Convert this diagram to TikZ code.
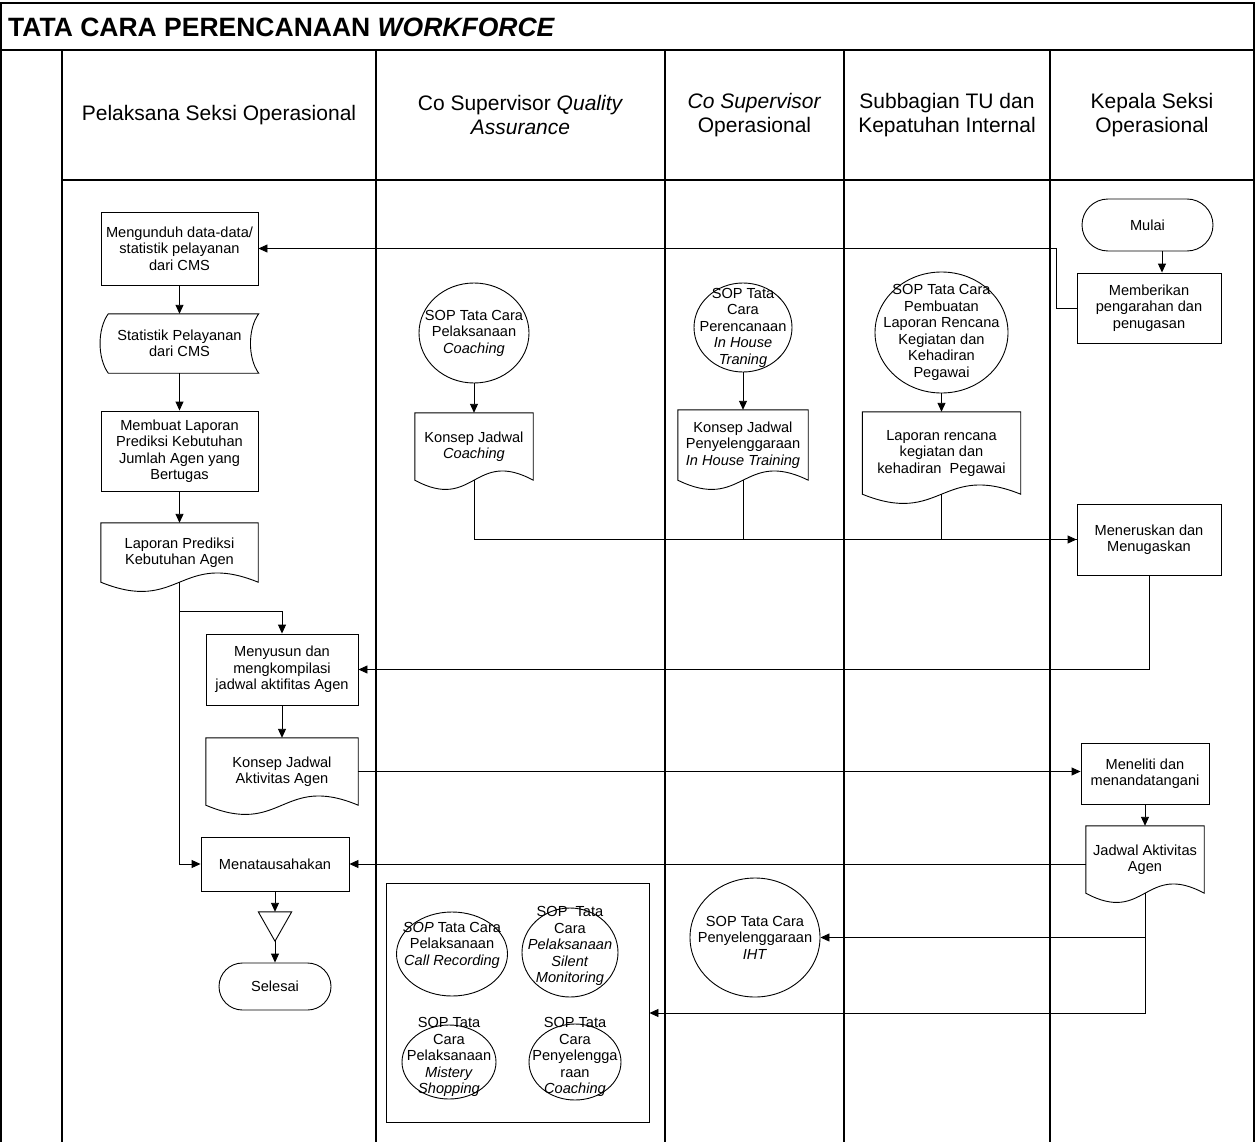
\documentclass[tikz,border=0pt]{standalone}
\usepackage{fontspec}
\setmainfont{Liberation Sans}
\usetikzlibrary{calc,arrows.meta,shapes.geometric}
\tikzset{
  lbl/.style={font=\fontsize{14.6}{16.5}\selectfont, align=center, inner sep=0pt, text=black},
  procbox/.style={lbl, draw, line width=0.9pt},
  docbox/.style={lbl, draw=none},
  termbox/.style={lbl, draw, line width=0.9pt, rounded corners=#1},
  sopcirc/.style={draw, ellipse, line width=0.9pt, inner sep=0pt},
  outline/.style={draw, line width=0.9pt},
  conn/.style={line width=0.9pt},
  arr/.style={conn, -{Triangle[length=9pt,width=8pt]}},
  lane/.style={line width=1.2pt},
  hdr/.style={font=\fontsize{21}{24}\selectfont, align=center, inner sep=0pt},
}
\newcommand\docpath[1]{\path[outline] (#1.south west) -- (#1.north west) -- (#1.north east) -- (#1.south east)
  .. controls ($(#1.south)+(0,-32)$) and ($(#1.south)+(0,32)$) .. (#1.south west) -- cycle;}
\begin{document}
\begin{tikzpicture}[x=1pt,y=-1pt]
\useasboundingbox (0,0) rectangle (1255,1142);
\fill[white] (0,0) rectangle (1255,1142);
% frame and lanes
\draw[lane] (1,1142) -- (1,3) -- (1254,3) -- (1254,1142);
\draw[lane] (1,50) -- (1254,50);
\draw[lane] (62,180) -- (1254,180);
\foreach \x in {62,376,665,844,1050} \draw[lane] (\x,50) -- (\x,1142);
% title and headers
\node[anchor=west, inner sep=0pt, font=\fontsize{26.5}{30}\selectfont\bfseries] (title) at (8,27) {TATA CARA PERENCANAAN \textit{WORKFORCE}};
\node[hdr] (h1) at (219,115) {Pelaksana Seksi Operasional};
\node[hdr] (h2) at (520.5,115) {Co Supervisor \textit{Quality}\\\textit{Assurance}};
\node[hdr] (h3) at (754.5,115) {\textit{Co Supervisor}\\Operasional};
\node[hdr] (h4) at (947,115) {Subbagian TU dan\\Kepatuhan Internal};
\node[hdr] (h5) at (1152,115) {Kepala Seksi\\Operasional};
% lane 1
\node[procbox, minimum width=157pt, minimum height=73pt] (unduh) at (179.5,248.5) {Mengunduh data-data/\\statistik pelayanan\\dari CMS};
\node[docbox, minimum width=158pt, minimum height=59pt] (stat) at (179.5,343.5) {Statistik Pelayanan\\dari CMS};
\path[outline] ([xshift=8pt]stat.north west) -- (stat.north east) .. controls +(-11,15) and +(-11,-15) .. (stat.south east) -- ([xshift=8pt]stat.south west) .. controls +(-11,-15) and +(-11,15) .. ([xshift=8pt]stat.north west) -- cycle;
\node[procbox, minimum width=157pt, minimum height=80pt] (buat) at (179.5,451) {Membuat Laporan\\Prediksi Kebutuhan\\Jumlah Agen yang\\Bertugas};
\node[docbox, minimum width=157pt, minimum height=59pt] (lapor) at (179.5,552.5) {Laporan Prediksi\\Kebutuhan Agen};
\docpath{lapor}
\node[procbox, minimum width=152pt, minimum height=71pt] (susun) at (282,669.5) {Menyusun dan\\mengkompilasi\\jadwal aktifitas Agen};
\node[docbox, minimum width=152pt, minimum height=67pt] (kagen) at (282,771.5) {Konsep Jadwal\\Aktivitas Agen};
\docpath{kagen}
\node[procbox, minimum width=148pt, minimum height=54pt] (tata) at (275,864) {Menatausahakan};
\node[docbox, minimum width=33pt, minimum height=29pt] (tri) at (275,926.5) {};
\path[outline] (tri.north west) -- (tri.north east) -- (tri.south) -- cycle;
\node[termbox=23.5pt, minimum width=112pt, minimum height=47pt] (selesai) at (275,986.5) {Selesai};
% lane 2
\node[sopcirc, minimum width=110pt, minimum height=100pt] (c1) at (474,333) {};
\node[lbl] (c1t) at (c1) {SOP Tata Cara\\Pelaksanaan\\\textit{Coaching}};
\node[docbox, minimum width=118pt, minimum height=67pt] (kc) at (474,446.5) {Konsep Jadwal\\\textit{Coaching}};
\docpath{kc}
% lane 3
\node[sopcirc, minimum width=98pt, minimum height=89pt] (c2) at (743,327.5) {};
\node[lbl] (c2t) at (c2) {SOP Tata\\Cara\\Perencanaan\\\textit{In House}\\\textit{Traning}};
\node[docbox, minimum width=130pt, minimum height=70pt] (kih) at (743,445) {Konsep Jadwal\\Penyelenggaraan\\\textit{In House Training}};
\docpath{kih}
% lane 4
\node[sopcirc, minimum width=133pt, minimum height=121pt] (c3) at (941.5,332.5) {};
\node[lbl] (c3t) at (c3) {SOP Tata Cara\\Pembuatan\\Laporan Rencana\\Kegiatan dan\\Kehadiran\\Pegawai};
\node[docbox, minimum width=158pt, minimum height=82pt] (lrk) at (941.5,453) {Laporan rencana\\kegiatan dan\\kehadiran\ \ Pegawai};
\docpath{lrk}
% lane 5
\node[termbox=26pt, minimum width=131pt, minimum height=52pt] (mulai) at (1147.5,225) {Mulai};
\node[procbox, minimum width=144pt, minimum height=70pt] (beri) at (1149,308) {Memberikan\\pengarahan dan\\penugasan};
\node[procbox, minimum width=144pt, minimum height=71pt] (terus) at (1149,539.5) {Meneruskan dan\\Menugaskan};
\node[procbox, minimum width=128pt, minimum height=61pt] (teliti) at (1145,773.5) {Meneliti dan\\menandatangani};
\node[docbox, minimum width=118pt, minimum height=67pt] (jadwal) at (1145,859.5) {Jadwal Aktivitas\\Agen};
\docpath{jadwal}
% IHT
\node[sopcirc, minimum width=130pt, minimum height=119pt] (iht) at (755,937.5) {};
\node[lbl] (ihtt) at (iht) {SOP Tata Cara\\Penyelenggaraan\\\textit{IHT}};
% SOP box
\node[draw, line width=0.9pt, minimum width=263pt, minimum height=239pt, inner sep=0pt] (sopbox) at (517.5,1002.5) {};
\node[sopcirc, minimum width=111pt, minimum height=84pt] (s1) at (452,954) {};
\node[lbl] (s1t) at (452,945) {\textit{SOP} Tata Cara\\Pelaksanaan\\\textit{Call Recording}};
\node[sopcirc, minimum width=96pt, minimum height=89pt] (s2) at (570,952.5) {};
\node[lbl] (s2t) at (570,946) {SOP\ \ Tata\\Cara\\\textit{Pelaksanaan}\\\textit{Silent}\\\textit{Monitoring}};
\node[sopcirc, minimum width=94pt, minimum height=74pt] (s3) at (449,1062) {};
\node[lbl] (s3t) at (449,1057) {SOP Tata\\Cara\\Pelaksanaan\\\textit{Mistery}\\\textit{Shopping}};
\node[sopcirc, minimum width=92pt, minimum height=76pt] (s4) at (575,1062) {};
\node[lbl] (s4t) at (575,1057) {SOP Tata\\Cara\\Penyelengga\\raan\\\textit{Coaching}};
\coordinate (boxin) at ($(sopbox.east)+(0,10.5)$);
% connectors
\draw[arr] ([xshift=14.5pt]mulai.south) -- ([xshift=13pt]beri.north);
\draw[arr] (beri.west) -- ++(-20,0) |- (unduh.east);
\draw[arr] (unduh.south) -- (stat.north);
\draw[arr] (stat.south) -- (buat.north);
\draw[arr] (buat.south) -- (lapor.north);
\draw[arr] (lapor.south) -- ++(0,29) -| (susun.north);
\draw[arr] (lapor.south) |- (tata.west);
\draw[arr] (susun.south) -- (kagen.north);
\draw[arr] (kagen.east) -- (kagen.east -| teliti.west);
\draw[arr] (teliti.south) -- (teliti.south |- jadwal.north);
\draw[arr] (jadwal.west |- tata.east) -- (tata.east);
\draw[arr] (jadwal.south) |- (iht.east);
\draw[arr] (jadwal.south) |- (boxin);
\draw[arr] (tata.south) -- (tri.north);
\draw[arr] (tri.south) -- (selesai.north);
\draw[arr] (c1.south) -- (kc.north);
\draw[arr] (c2.south) -- (kih.north);
\draw[arr] (c3.south) -- (lrk.north);
\draw[arr] (kc.south) |- (terus.west);
\draw[conn] (kih.south) |- (terus.west);
\draw[conn] (lrk.south) |- (terus.west);
\draw[arr] (terus.south) |- (susun.east);
\end{tikzpicture}
\end{document}
